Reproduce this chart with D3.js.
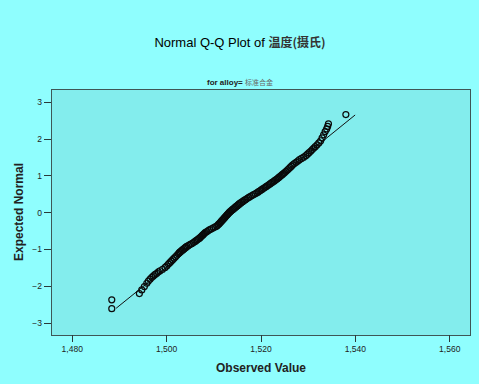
<!DOCTYPE html>
<html><head><meta charset="utf-8">
<script src="https://cdn.jsdelivr.net/npm/d3@7"></script>
<style>html,body{margin:0;padding:0;background:#8ffefe;}svg{display:block;}</style>
</head><body>
<svg id="c" width="479" height="384"></svg>
<script>
const titleText = "Normal Q-Q Plot of ";
const titleCJK = "温度(摄氏)";
const subtitleLatin = "for alloy= ";
const subtitleCJK = "标准合金";
const xLabel = "Observed Value";
const yLabel = "Expected Normal";
const xTicks = [1480, 1500, 1520, 1540, 1560];
const yTicks = [-3, -2, -1, 0, 1, 2, 3];
const xDomain = [1475.6, 1564.4];
const yDomain = [-3.335, 3.345];

// observed values (sorted) and their expected normal values
const observed = [
1488.48,1488.48,1494.33,1494.84,1495.39,1495.90,1496.24,1496.60,1496.96,1497.30,
1497.66,1498.02,1498.36,1498.72,1499.25,1499.78,1500.14,1500.48,1500.78,1501.08,
1501.39,1501.69,1501.99,1502.28,1502.57,1502.79,1502.96,1503.21,1503.45,1503.68,
1503.92,1504.16,1504.38,1504.76,1505.11,1505.46,1505.78,1506.06,1506.33,1506.59,
1506.85,1507.12,1507.33,1507.53,1507.73,1507.92,1508.12,1508.34,1508.64,1508.94,
1509.24,1509.60,1510.00,1510.39,1510.74,1510.95,1511.14,1511.33,1511.52,1511.69,
1511.86,1512.04,1512.21,1512.39,1512.56,1512.73,1512.91,1513.08,1513.25,1513.43,
1513.62,1513.85,1514.08,1514.31,1514.54,1514.77,1515.00,1515.23,1515.46,1515.69,
1515.99,1516.30,1516.60,1516.90,1517.21,1517.51,1517.81,1518.17,1518.52,1518.88,
1519.22,1519.52,1519.81,1520.09,1520.38,1520.67,1520.96,1521.25,1521.53,1521.81,
1522.09,1522.37,1522.65,1522.93,1523.21,1523.49,1523.72,1523.95,1524.19,1524.42,
1524.65,1524.88,1525.12,1525.41,1525.70,1525.98,1526.27,1526.55,1526.83,1527.16,
1527.53,1527.90,1528.26,1528.69,1529.15,1529.60,1529.95,1530.29,1530.67,1530.98,
1531.30,1531.61,1532.00,1532.37,1532.75,1533.06,1533.38,1533.70,1534.02,1534.23,
1534.40,1538.09];
const expected = [
-2.62,-2.38,-2.21,-2.11,-2.02,-1.93,-1.87,-1.82,-1.77,-1.73,
-1.69,-1.66,-1.62,-1.59,-1.55,-1.50,-1.46,-1.41,-1.37,-1.33,
-1.29,-1.25,-1.21,-1.17,-1.13,-1.10,-1.075,-1.05,-1.025,-1.00,
-0.975,-0.95,-0.925,-0.90,-0.875,-0.85,-0.825,-0.80,-0.775,-0.75,
-0.725,-0.70,-0.675,-0.65,-0.625,-0.60,-0.575,-0.55,-0.525,-0.50,
-0.475,-0.45,-0.425,-0.40,-0.375,-0.35,-0.325,-0.30,-0.275,-0.25,
-0.225,-0.20,-0.175,-0.15,-0.125,-0.10,-0.075,-0.05,-0.025,0.00,
0.025,0.05,0.075,0.10,0.125,0.15,0.175,0.20,0.225,0.25,
0.275,0.30,0.325,0.35,0.375,0.40,0.425,0.45,0.475,0.50,
0.525,0.55,0.575,0.60,0.625,0.65,0.675,0.70,0.725,0.75,
0.775,0.80,0.825,0.85,0.875,0.90,0.925,0.95,0.975,1.00,
1.025,1.05,1.075,1.11,1.145,1.18,1.215,1.25,1.285,1.32,
1.355,1.39,1.425,1.46,1.495,1.535,1.575,1.615,1.66,1.70,
1.74,1.78,1.83,1.88,1.94,2.02,2.10,2.19,2.26,2.33,
2.40,2.65];
// reference line endpoints
const lineObserved = [1489.4, 1540.06];
const lineExpected = [-2.61, 2.64];

const svg = d3.select("#c");
const W = 479, H = 384;
const plot = {left: 51, top: 89, right: 470, bottom: 335};
const font = "'Liberation Sans', Arial, sans-serif";
const cjk = "'Noto Sans CJK SC', sans-serif";

svg.append("rect").attr("width", W).attr("height", H).attr("fill", "#8ffefe");

const x = d3.scaleLinear().domain(xDomain).range([plot.left, plot.right]);
const y = d3.scaleLinear().domain(yDomain).range([plot.bottom, plot.top]);

svg.append("rect")
  .attr("x", plot.left).attr("y", plot.top)
  .attr("width", plot.right - plot.left).attr("height", plot.bottom - plot.top)
  .attr("fill", "#83eded").attr("stroke", "#3e5656").attr("stroke-width", 1)
  .attr("shape-rendering", "crispEdges");

// axes
const xAxis = svg.append("g").attr("transform", `translate(0,${plot.bottom})`)
  .call(d3.axisBottom(x).tickValues(xTicks).tickFormat(d3.format(",")).tickSize(7).tickSizeOuter(0).tickPadding(4));
const yAxis = svg.append("g").attr("transform", `translate(${plot.left},0)`)
  .call(d3.axisLeft(y).tickValues(yTicks).tickFormat(d3.format("d")).tickSize(7).tickSizeOuter(0).tickPadding(2));
[xAxis, yAxis].forEach(g => {
  g.select(".domain").remove();
  g.selectAll(".tick line").attr("stroke", "#2a3a3a").attr("shape-rendering", "crispEdges");
  g.selectAll(".tick text").attr("fill", "#222").style("font-family", font).style("font-size", "8.5px");
});
yAxis.selectAll(".tick text").attr("dy", "0.34em");

// reference line
svg.append("line")
  .attr("x1", x(lineObserved[0])).attr("y1", y(lineExpected[0]))
  .attr("x2", x(lineObserved[1])).attr("y2", y(lineExpected[1]))
  .attr("stroke", "#111").attr("stroke-width", 1);

// points
svg.append("g").selectAll("circle")
  .data(observed.map((v, i) => [v, expected[i]]))
  .join("circle")
  .attr("cx", d => x(d[0])).attr("cy", d => y(d[1]))
  .attr("r", 3).attr("fill", "none").attr("stroke", "#0a0a0a").attr("stroke-width", 1.2);

// title
const t = svg.append("text").attr("x", 240).attr("y", 47).attr("text-anchor", "middle")
  .style("font-family", font).style("font-size", "13px").attr("fill", "#000");
t.append("tspan").text(titleText);
t.append("tspan").style("font-family", cjk).style("font-size", "12px").style("font-weight", "bold").attr("fill", "#333").text(titleCJK);

const st = svg.append("text").attr("x", 240).attr("y", 85).attr("text-anchor", "middle")
  .style("font-family", font).style("font-size", "8px").style("font-weight", "bold").attr("fill", "#222");
st.append("tspan").text(subtitleLatin);
st.append("tspan").style("font-family", cjk).style("font-weight", "normal").style("font-size", "7px").attr("fill", "#666").text(subtitleCJK);

svg.append("text").attr("x", 261).attr("y", 372).attr("text-anchor", "middle")
  .style("font-family", font).style("font-size", "12px").style("font-weight", "bold").attr("fill", "#222").text(xLabel);
svg.append("text").attr("transform", "translate(23,212) rotate(-90)").attr("text-anchor", "middle")
  .style("font-family", font).style("font-size", "12px").style("font-weight", "bold").attr("fill", "#222").text(yLabel);
</script>
</body></html>
